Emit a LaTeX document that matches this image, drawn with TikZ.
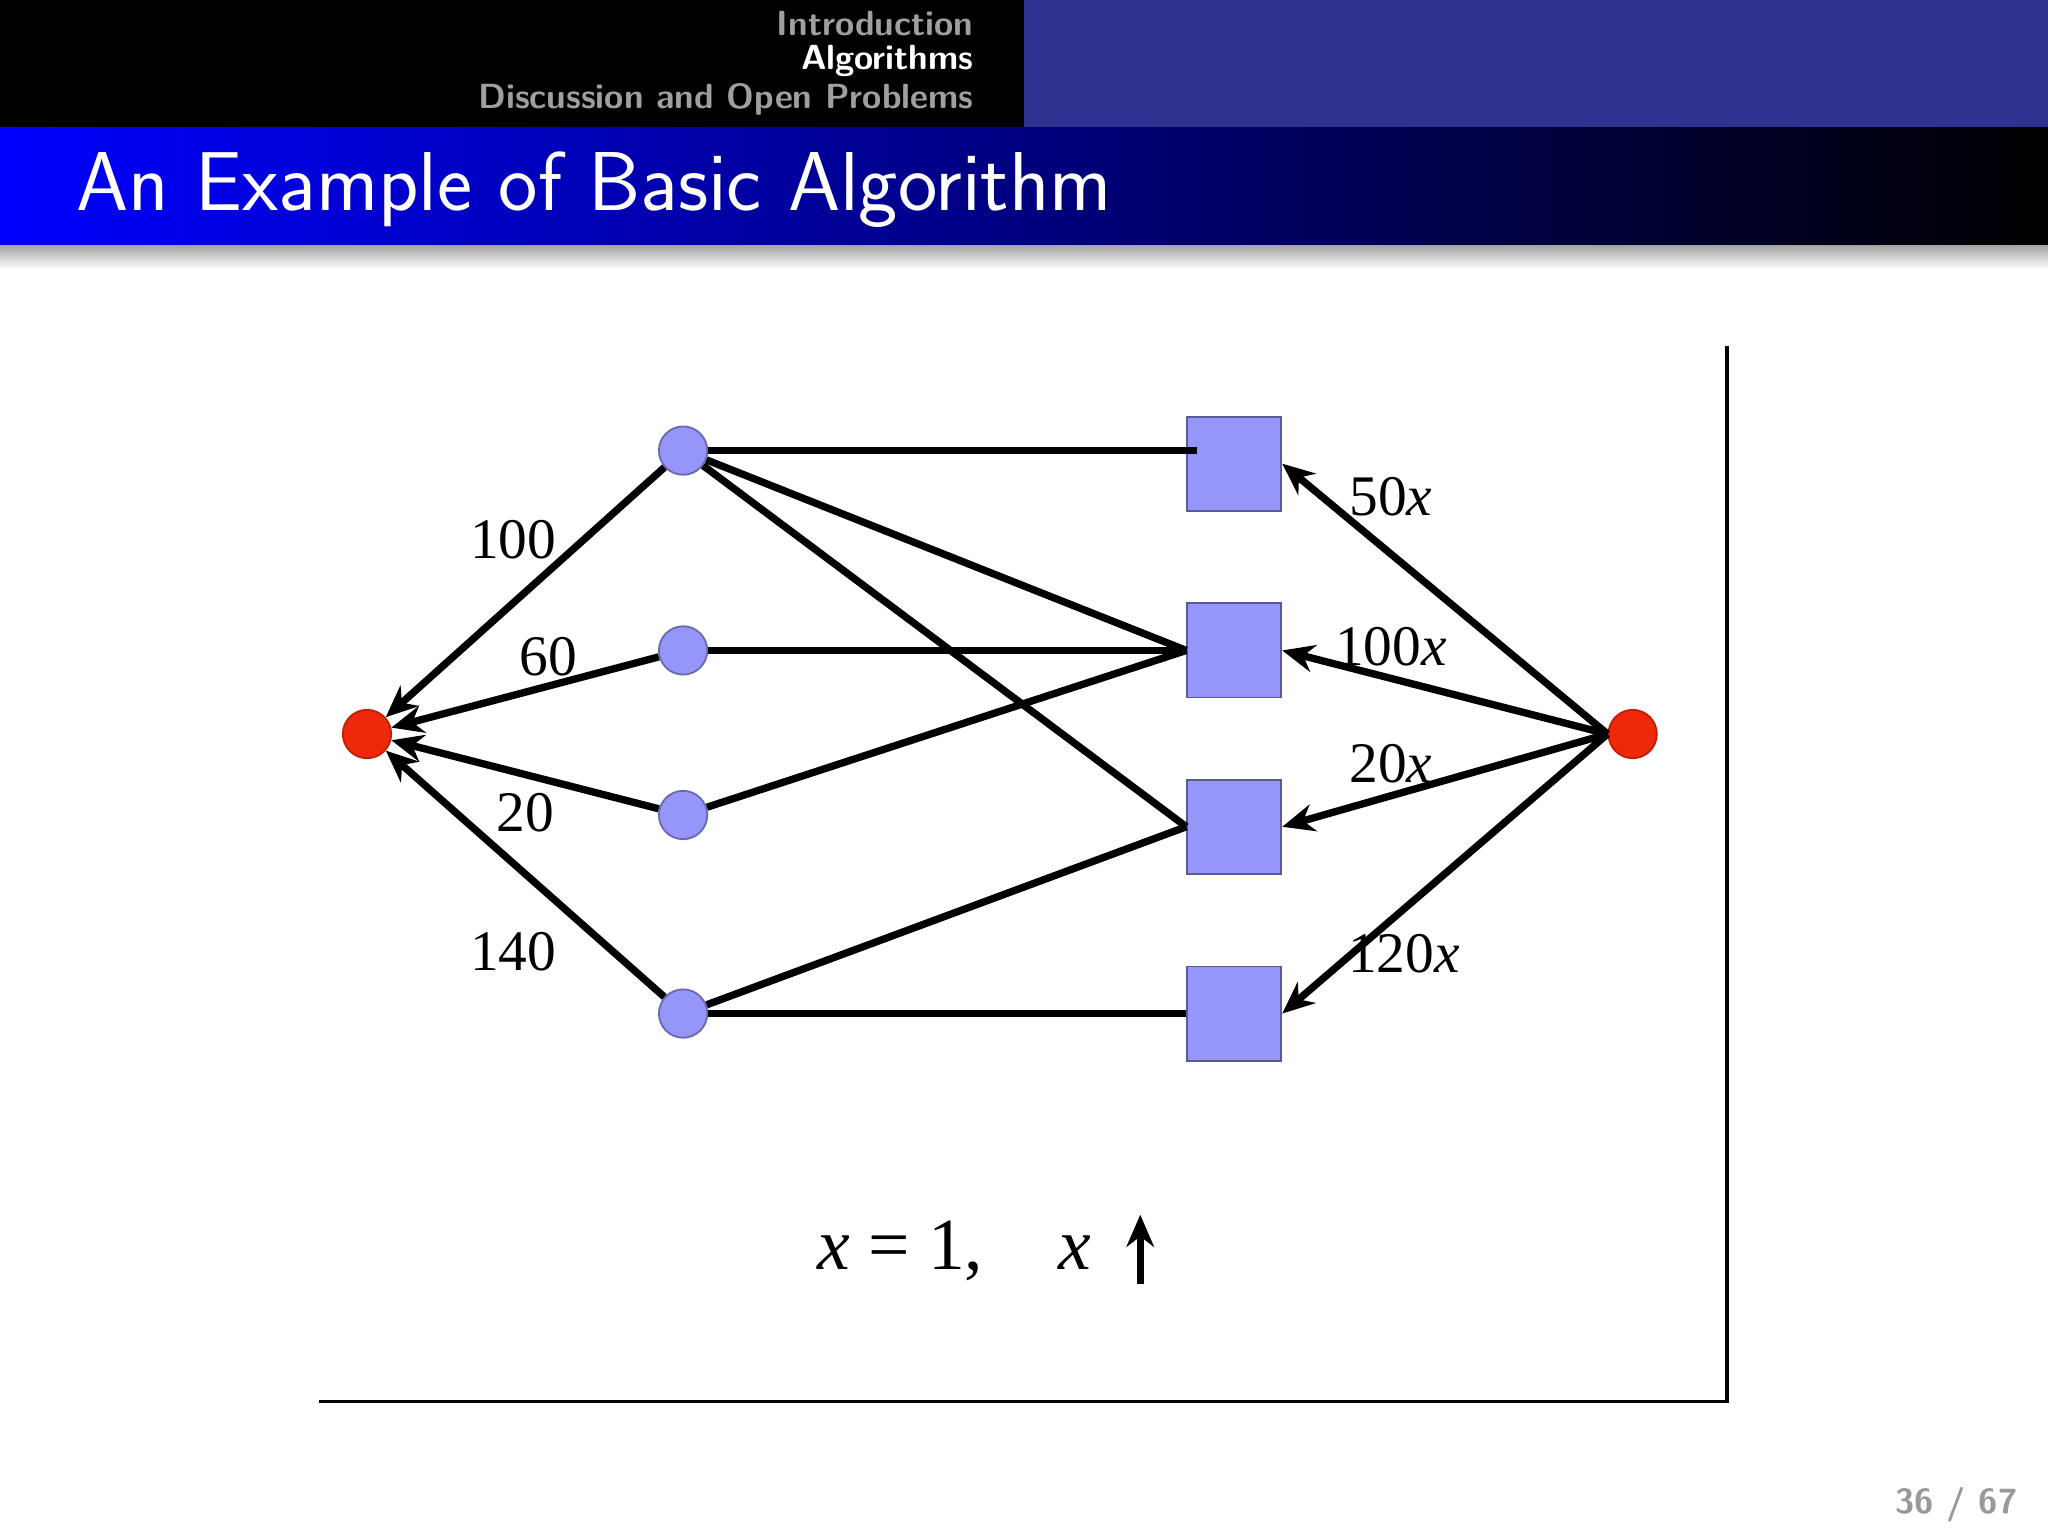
\documentclass[tikz,border=0pt]{standalone}
\usepackage{fontspec}
\newfontfamily\tms{Liberation Serif}
\usetikzlibrary{arrows.meta}
\definecolor{hdrblue}{RGB}{46,51,146}
\definecolor{nodeblue}{RGB}{150,150,250}
\definecolor{nodered}{RGB}{240,40,10}
\tikzset{
 circ/.style={circle,fill=nodeblue,draw=nodeblue!70!black,line width=0.4pt,minimum size=0.37cm,inner sep=0},
 rnode/.style={circle,fill=nodered,draw=nodered!80!black,line width=0.4pt,minimum size=0.37cm,inner sep=0},
 sq/.style={rectangle,fill=nodeblue,draw=nodeblue!60!black,line width=0.4pt,minimum size=0.72cm,inner sep=0},
 ed/.style={line width=1.6pt},
 ar/.style={line width=1.6pt,-{Stealth[length=7pt,width=6pt]}},
 lab/.style={font=\tms\fontsize{12.5}{12.5}\selectfont,inner sep=1pt},
 hdr/.style={font=\sffamily\bfseries\fontsize{7.6}{7.6}\selectfont,anchor=east,inner sep=0}
}
\begin{document}
\begin{tikzpicture}[x=0.01cm,y=-0.01cm]
\useasboundingbox (0,0) rectangle (1568,1176);
\fill[white] (0,0) rectangle (1568,1176);
\fill[black] (0,0) rectangle (784,98);
\fill[hdrblue] (784,0) rectangle (1568,98);
\node[hdr,text=gray!75] (h1) at (746,18) {Introduction};
\node[hdr,text=white] (h2) at (746,47) {Algorithms};
\node[hdr,text=gray!75] (h3) at (746,76) {Discussion and Open Problems};
\shade[left color={rgb,255:red,0;green,0;blue,255},right color=black] (0,98) rectangle (1568,188);
\shade[top color=gray!70,bottom color=white] (0,188) rectangle (1568,206);
\node[anchor=west,text=white,font=\sffamily\fontsize{18.2}{18.2}\selectfont,inner sep=0] (title) at (58,145) {An Example of Basic Algorithm};
\draw[line width=0.8pt] (1322,265) -- (1322,1073) -- (244,1073);
\node[rnode] (s) at (281,562) {};
\node[rnode] (t) at (1250,562) {};
\node[circ] (c1) at (523,345) {};
\node[circ] (c2) at (523,498) {};
\node[circ] (c3) at (523,624) {};
\node[circ] (c4) at (523,776) {};
\node[sq] (q1) at (945,355) {};
\node[sq] (q2) at (945,498) {};
\node[sq] (q3) at (945,633) {};
\node[sq] (q4) at (945,776) {};
\coordinate (q1in) at ([xshift=0.08cm]c1.east -| q1.west);
\draw[ed] (c1.east) -- (q1in);
\draw[ed] (c1) -- (q2.west);
\draw[ed] (c1) -- (q3.west);
\draw[ed] (c2) -- (q2.west);
\draw[ed] (c3) -- (q2.west);
\draw[ed] (c4) -- (q3.west);
\draw[ed] (c4) -- (q4.west);
\draw[ar] (c1) -- (s);
\draw[ar] (c2) -- (s);
\draw[ar] (c3) -- (s);
\draw[ar] (c4) -- (s);
\node[lab] (l1) at (393,413) {100};
\node[lab] (l2) at (420,503) {60};
\node[lab] (l3) at (402,622) {20};
\node[lab] (l4) at (393,729) {140};
\draw[ar] (t.west) -- (q1.east);
\draw[ar] (t.west) -- (q2.east);
\draw[ar] (t.west) -- (q3.east);
\draw[ar] (t.west) -- (q4.east);
\node[lab] (r1) at (1065,380) {50\textit{x}};
\node[lab] (r2) at (1065,495) {100\textit{x}};
\node[lab] (r3) at (1065,585) {20\textit{x}};
\node[lab] (r4) at (1075,730) {120\textit{x}};
\node[font=\tms\fontsize{16}{16}\selectfont,anchor=east] (eq) at (848,958) {\textit{x} = 1,\enspace\; \textit{x}};
\coordinate (a1) at (873,983);
\coordinate (a2) at (873,930);
\draw[line width=1.6pt,-{Stealth[length=7pt,width=6pt]}] (a1) -- (a2);
\node[font=\sffamily\bfseries\fontsize{7.6}{7.6}\selectfont,text=gray!80] (pg) at (1498,1152) {36 / 67};
\end{tikzpicture}
\end{document}
